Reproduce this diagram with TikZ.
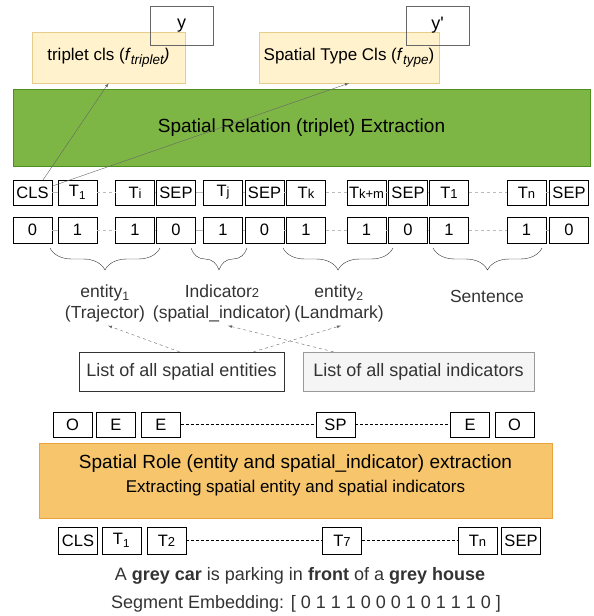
\documentclass[tikz,border=0pt]{standalone}
\usepackage{fontspec}
\setmainfont{Liberation Sans}
\newfontfamily\plainfont{Liberation Sans}
\usetikzlibrary{decorations.pathreplacing,arrows.meta}

\definecolor{linkgray}{HTML}{BBBBBB}
\definecolor{arrgray}{HTML}{666666}
\definecolor{txtgray}{HTML}{333333}
\definecolor{clsfill}{HTML}{FFF2CC}
\definecolor{clsline}{HTML}{E6CD8A}
\definecolor{relfill}{HTML}{7DB644}
\definecolor{relline}{HTML}{4E8F1E}
\definecolor{rolefill}{HTML}{F6C56C}
\definecolor{roleline}{HTML}{E8A33D}
\definecolor{listfill}{HTML}{F5F5F5}

\tikzset{
  tok/.style={draw, minimum width=39pt, minimum height=25pt, inner sep=0pt,
    font=\fontsize{16.5}{16.5}\selectfont},
  link/.style={linkgray, thin},
  dlink/.style={linkgray, thin, dashed},
  blink/.style={black, thin, dash pattern=on 3pt off 2pt},
  outbox/.style={draw=arrgray, thick, minimum width=63pt, minimum height=39pt,
    inner sep=0pt, font=\fontsize{18}{18}\selectfont},
  clsbox/.style={draw=clsline, fill=clsfill, minimum height=51pt, inner sep=0pt,
    font=\fontsize{17}{17}\selectfont},
  lbl/.style={txtgray, align=center, font=\fontsize{17.5}{21}\selectfont},
  listbox/.style={draw=txtgray, minimum height=39pt, inner sep=0pt, txtgray,
    font=\fontsize{18}{18}\selectfont},
  brc/.style={decorate, decoration={brace, mirror, amplitude=22pt}, txtgray},
  toarr/.style={-latex, arrgray},
  lsarr/.style={-latex, arrgray, dashed}
}
\newcommand{\sm}[1]{{\fontsize{13}{13}\selectfont #1}}
\newcommand{\sub}[1]{\raisebox{-4pt}{\fontsize{13.5}{13.5}\selectfont\itshape #1}}

\begin{document}
\begin{tikzpicture}[x=1pt,y=-1pt]
	\useasboundingbox (0,0) rectangle (594,616);
	% classifiers
	\node[clsbox, minimum width=153pt] (trip) at (108.5,57.5) {triplet cls (\textit{f}\sub{triplet}\textit{)}};
	\node[clsbox, minimum width=180pt] (stype) at (349,57.5) {Spatial Type Cls (\textit{f}\sub{type})};
	\node[outbox] (yout) at (181.5,25.5) {y};
	\node[outbox] (ytype) at (437.5,25.5) {{\plainfont y'}};
	\node[draw=relline, fill=relfill, minimum width=577pt, minimum height=77pt,
		font=\fontsize{19}{19}\selectfont] (rel) at (301.5,127.5) {Spatial Relation (triplet) Extraction};

	% token rows
	\foreach \n/\x/\t/\s in {a/32.5/CLS/0, b/77.5/{T\textsubscript{1}}/1, c/135/{T\sm{i}}/1,
		d/176/SEP/0, e/223/{T\sm{j}}/1, f/264.5/SEP/0, g/306/{T\sm{k}}/1,
		h/366.5/{T\sm{k+m}}/1, i/408/SEP/0, j/449/{T\sm{1}}/1, k/526.5/{T\sm{n}}/1, l/569/SEP/0} {
		\node[tok] (r1\n) at (\x,192.5) {\t};
		\node[tok, minimum height=26pt] (r2\n) at (\x,230) {\s};
	}
	\foreach \p/\q in {a/b,c/d,d/e,e/f,f/g,h/i,i/j,k/l} {
		\draw[link] (r1\p) -- (r1\q);
		\draw[link] (r2\p) -- (r2\q);
	}
	\foreach \p/\q in {b/c,g/h,j/k} {
		\draw[dlink] (r1\p) -- (r1\q);
		\draw[dlink] (r2\p) -- (r2\q);
	}
	\draw[toarr] (r1a.50) -- (trip.south);
	\draw[toarr] (r1a.18) -- (stype.south);

	% braces and labels
	\draw[brc] (50,248) -- (160,248);
	\draw[brc] (191,248) -- (247,248);
	\draw[brc] (283,248) -- (393,248);
	\draw[brc] (433,248) -- (542,248);
	\node[lbl] (ent1) at (105,303.5) {entity\textsubscript{1}\\(Trajector)};
	\node[lbl] (ind2) at (222,303.5) {Indicator\sm{2}\\(spatial\_indicator)};
	\node[lbl] (ent2) at (339,303.5) {entity\textsubscript{2}\\(Landmark)};
	\node[lbl] (sent) at (487,296) {Sentence};

	\node[listbox, minimum width=205pt] (lent) at (181.5,371.5) {List of all spatial entities};
	\node[listbox, draw=black!40, fill=listfill, minimum width=231pt] (lind) at (418.5,371.5) {List of all spatial indicators};
	\draw[lsarr] ([xshift=-2pt]lent.north) -- ([xshift=3pt]ent1.south);
	\draw[lsarr] ([xshift=72pt]lent.north) -- ([xshift=2pt]ent2.south);
	\draw[lsarr] ([xshift=-85pt]lind.north) -- ([xshift=6pt]ind2.south);

	% role tags
	\foreach \n/\x/\t in {a/72.5/O, b/116/E, c/161/E, d/335.5/SP, e/470/E, f/514.5/O}
		\node[tok] (tg\n) at (\x,424.5) {\t};
	\draw[blink] (tgc) -- (tgd);
	\draw[blink] (tgd) -- (tge);

	\node[draw=roleline, fill=rolefill, minimum width=513pt, minimum height=75pt, align=center] (role) at (295.5,480.5)
		{{\fontsize{19}{19}\selectfont Spatial Role (entity and spatial\_indicator) extraction}\\[6pt]
		{\fontsize{17}{17}\selectfont Extracting spatial entity and spatial indicators}\\[-2pt]\strut};

	% input tokens
	\foreach \n/\x/\t in {a/78/CLS, b/121.5/{T\textsubscript{1}}, c/166.5/{T\sm{2}}, d/342/{T\sm{7}}, e/477.5/{T\sm{n}}, f/521/SEP}
		\node[tok, minimum height=27pt] (in\n) at (\x,540.5) {\t};
	\draw[blink] (inc) -- (ind);
	\draw[blink] (ind) -- (ine);

	\node[txtgray, font=\fontsize{18}{18}\selectfont] (sentence) at (300,576)
		{A \textbf{grey car} is parking in \textbf{front} of a \textbf{grey house}};
	\node[txtgray, font=\fontsize{18}{18}\selectfont] (segemb) at (306,604)
		{Segment Embedding: [ 0 1 1 1 0 0 0 1 0 1 1 1 0 ]};
\end{tikzpicture}
\end{document}
